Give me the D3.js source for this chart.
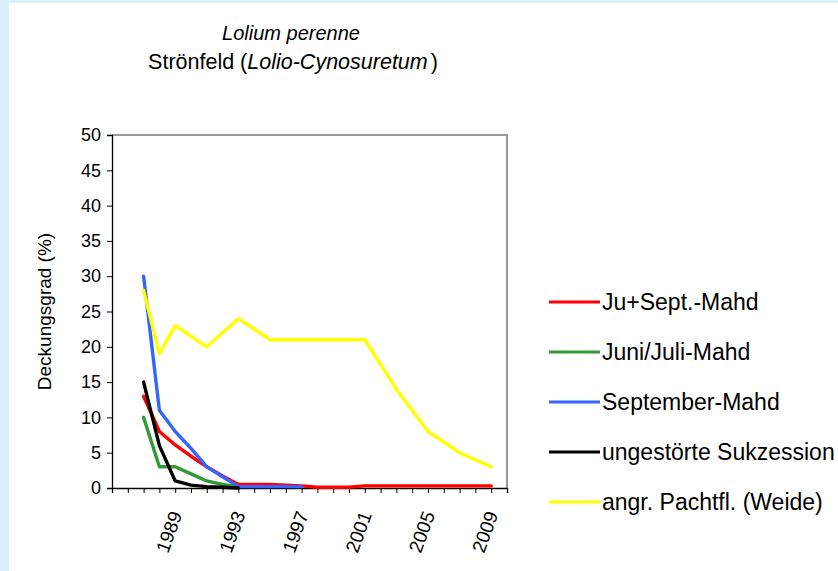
<!DOCTYPE html>
<html>
<head>
<meta charset="utf-8">
<script src="https://cdn.jsdelivr.net/npm/d3@7"></script>
<style>
  html, body { margin: 0; padding: 0; background: #ffffff; }
  svg { display: block; font-family: Arial, "Liberation Sans", sans-serif; }
</style>
</head>
<body>
<svg id="chart" width="838" height="571"></svg>
<script>
// ---- data ----
const years = [1987,1988,1989,1990,1991,1992,1993,1994,1995,1996,1997,1998,1999,2000,2001,2002,2003,2004,2005,2006,2007,2008,2009];
const juSeptMahd   = [13, 8, 6.1, 4.5, 3, 1.7, 0.5, 0.5, 0.5, 0.4, 0.3, 0.1, 0.1, 0.1, 0.3, 0.3, 0.3, 0.3, 0.3, 0.3, 0.3, 0.3, 0.3];
const juniJuliMahd = [10, 3, 3, 2, 1, 0.5, 0.2, null, null, null, null, null, null, null, null, null, null, null, null, null, null, null, null];
const septMahd     = [30, 11, 8, 5.6, 3, 1.6, 0.2, 0.2, 0.2, 0.2, 0.2, null, null, null, null, null, null, null, null, null, null, null, null];
const sukzession   = [15, 6, 1, 0.4, 0.2, 0.1, 0, null, null, null, null, null, null, null, null, null, null, null, null, null, null, null, null];
const weide        = [28, 19, 23, null, 20, null, 24, null, 21, null, 21, null, 21, null, 21, null, 14, null, 8, null, 5, null, 3];
const seriesNames  = ["Ju+Sept.-Mahd", "Juni/Juli-Mahd", "September-Mahd", "ungestörte Sukzession", "angr. Pachtfl. (Weide)"];
const seriesValues = [juSeptMahd, juniJuliMahd, septMahd, sukzession, weide];
const seriesColors = ["#ff0000", "#339933", "#3366ff", "#000000", "#ffff00"];
const yTicks = [0, 5, 10, 15, 20, 25, 30, 35, 40, 45, 50];
const xTickYears = d3.range(1985, 2011);
const xLabelYears = [1989, 1993, 1997, 2001, 2005, 2009];
const titleLine1 = "Lolium perenne";
const yAxisTitle = "Deckungsgrad (%)";

// ---- layout ----
const svg = d3.select("#chart");
const W = 838, H = 571;
const plot = { left: 112, right: 507, top: 135, bottom: 488 };

svg.append("rect").attr("x", 0).attr("y", 0).attr("width", W).attr("height", H).attr("fill", "#daf0fb");
svg.append("rect").attr("x", 9).attr("y", 3).attr("width", W - 9).attr("height", H - 3).attr("fill", "#ffffff");

const x = d3.scaleLinear().domain([1985, 2010]).range([plot.left, plot.right]);
const y = d3.scaleLinear().domain([0, 50]).range([plot.bottom, plot.top]);

// frame top/right (gray)
svg.append("path")
  .attr("d", `M${plot.left},${plot.top}H${plot.right}V${plot.bottom}`)
  .attr("fill", "none").attr("stroke", "#999999").attr("stroke-width", 2);

// y axis
const yAxis = d3.axisLeft(y).tickValues(yTicks).tickSize(5).tickPadding(6).tickFormat(d3.format("d"));
const gy = svg.append("g").attr("transform", `translate(${plot.left},0)`).call(yAxis);
gy.select(".domain").attr("stroke", "#000").attr("stroke-width", 1.3);
gy.selectAll(".tick line").attr("stroke", "#000");
gy.selectAll(".tick text").attr("font-size", 18).attr("fill", "#000").attr("font-family", "Arial, 'Liberation Sans', sans-serif");

// x axis
const xAxis = d3.axisBottom(x).tickValues(xTickYears).tickSize(5).tickFormat("");
const gx = svg.append("g").attr("transform", `translate(0,${plot.bottom})`).call(xAxis);
gx.select(".domain").attr("stroke", "#000").attr("stroke-width", 1.3);
gx.selectAll(".tick line").attr("stroke", "#000");

svg.append("g").selectAll("text").data(xLabelYears).join("text")
  .attr("transform", d => `translate(${x(d) + 1},${plot.bottom + 24}) rotate(-70)`)
  .attr("text-anchor", "end")
  .attr("dy", "0.35em")
  .attr("font-size", 19)
  .attr("fill", "#000")
  .text(d => d);

// series
const line = d3.line().x(d => x(d[0])).y(d => y(d[1]));
seriesValues.forEach((vals, i) => {
  const pts = years.map((yr, j) => [yr, vals[j]]).filter(p => p[1] !== null);
  svg.append("path")
    .attr("d", line(pts))
    .attr("fill", "none")
    .attr("stroke", seriesColors[i])
    .attr("stroke-width", 3.4)
    .attr("stroke-linejoin", "round")
    .attr("stroke-linecap", "round");
});

// y axis title
svg.append("text")
  .attr("transform", `translate(51,${(plot.top + plot.bottom) / 2}) rotate(-90)`)
  .attr("text-anchor", "middle")
  .attr("font-size", 19)
  .attr("fill", "#000")
  .text(yAxisTitle);

// chart title
svg.append("text").attr("x", 291).attr("y", 40).attr("text-anchor", "middle")
  .attr("font-size", 20).attr("font-style", "italic").attr("fill", "#000").text(titleLine1);
const t2 = svg.append("text").attr("x", 293).attr("y", 69).attr("text-anchor", "middle")
  .attr("font-size", 21.5).attr("fill", "#000");
t2.append("tspan").text("Strönfeld (");
t2.append("tspan").attr("font-style", "italic").text("Lolio-Cynosuretum");
t2.append("tspan").attr("dx", 3).text(")");

// legend
const legendY0 = 302, legendStep = 50;
seriesNames.forEach((name, i) => {
  const ly = legendY0 + i * legendStep;
  svg.append("line").attr("x1", 549).attr("x2", 600).attr("y1", ly).attr("y2", ly)
    .attr("stroke", seriesColors[i]).attr("stroke-width", 3);
  svg.append("text").attr("x", 602).attr("y", ly).attr("dy", "0.35em")
    .attr("font-size", 23).attr("fill", "#000").text(name);
});
</script>
</body>
</html>
